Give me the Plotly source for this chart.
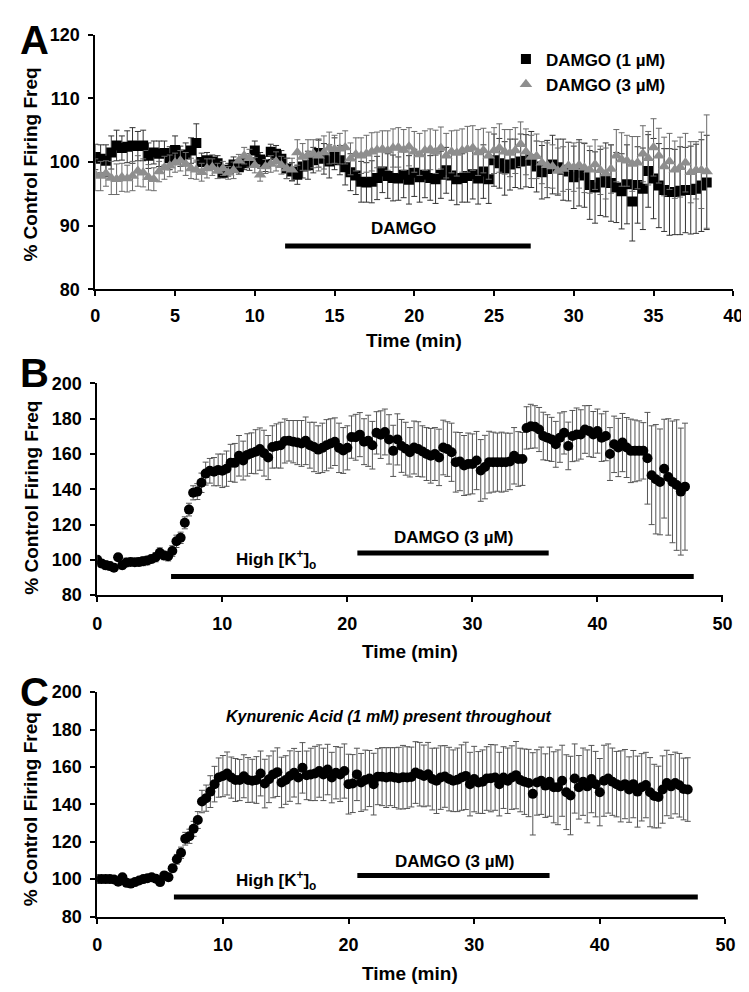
import plotly.graph_objects as go

W, H = 749, 992
SAMPLE_MIN = 1 / 3  # one sample every 20 s

# ---------------- Panel A data ----------------
a_damgo1 = [100.8, 100.5, 100.2, 101.5, 102.6, 102.2, 102.4, 102.6, 102.5, 102.6, 101.0, 101.5,
            101.3, 101.4, 100.6, 101.9, 100.9, 101.2, 101.8, 103.0, 100.0, 100.3, 100.1, 99.8,
            98.3, 98.8, 99.6, 99.2, 99.8, 100.0, 101.8, 100.4, 99.7, 101.6, 101.3, 100.5,
            99.0, 98.5, 98.0, 99.3, 99.5, 100.3, 101.4, 100.5, 100.1, 101.3, 100.3, 99.2,
            98.4, 97.9, 96.9, 96.8, 96.9, 97.5, 98.5, 97.8, 97.5, 97.4, 98.0, 97.2,
            98.3, 97.6, 98.0, 97.5, 97.3, 98.0, 98.7, 97.9, 97.3, 97.5, 97.8, 98.1,
            97.4, 98.5, 97.3, 100.3, 99.8, 99.0, 99.6, 99.8, 100.1, 100.2, 100.4, 99.3,
            98.4, 98.9, 99.6, 99.2, 98.8, 98.5, 97.6, 98.3, 97.9, 96.4, 96.0, 96.8,
            97.2, 96.7, 96.0, 95.4, 96.5, 93.8, 96.4, 95.8, 98.6, 97.4, 96.3, 95.6,
            95.3, 95.3, 95.5, 95.6, 95.6, 95.8, 96.3, 96.8]
a_damgo1_err = [2.0, 2.2, 2.5, 2.6, 2.4, 1.9, 2.5, 2.8, 2.3, 2.4, 2.0, 1.8,
                2.0, 1.9, 1.8, 2.2, 1.6, 1.8, 2.0, 3.0, 1.4, 1.2, 1.0, 1.2,
                0.8, 1.0, 1.2, 1.1, 1.0, 1.3, 1.5, 1.1, 1.2, 1.2, 1.3, 1.3,
                1.6, 1.4, 1.5, 1.8, 2.2, 2.0, 2.2, 2.4, 2.6, 2.5, 2.3, 2.8,
                2.9, 3.0, 3.2, 3.1, 3.3, 3.4, 3.3, 3.5, 3.6, 3.4, 3.6, 3.8,
                3.7, 3.9, 3.6, 3.5, 3.8, 3.7, 3.6, 3.9, 4.0, 3.8, 4.1, 3.9,
                4.0, 4.2, 3.8, 4.1, 3.9, 4.2, 4.0, 3.8, 4.3, 4.1, 4.4, 4.0,
                4.2, 4.5, 4.6, 4.4, 4.8, 4.6, 4.9, 5.2, 5.0, 5.4, 5.6, 5.2,
                5.8, 6.0, 5.5, 5.9, 6.2, 6.2, 6.0, 6.4, 5.7, 6.3, 6.6, 6.5,
                6.8, 6.7, 6.9, 6.7, 6.9, 7.0, 7.2, 7.4]
a_damgo3 = [98.0, 97.8, 98.2, 97.5, 97.3, 97.6, 97.4, 97.8, 98.6, 98.3, 97.6, 97.3,
            98.5, 99.1, 99.4, 99.9, 100.2, 99.7, 99.0, 98.8, 98.4, 99.0, 99.2, 98.6,
            99.0, 98.3, 98.7, 100.2, 101.0, 100.6, 99.5, 98.0, 99.3, 99.7, 100.1, 99.5,
            99.0, 98.8, 101.5, 100.8, 101.1, 101.3, 101.0, 101.5, 102.2, 102.0, 102.1, 102.3,
            100.5, 101.2, 101.0, 101.3, 101.6, 101.9, 102.0, 101.8, 102.2, 102.3, 101.9, 102.4,
            101.6, 101.2, 101.8, 102.0, 101.6, 102.2, 101.0, 101.6, 101.4, 101.8, 102.0, 102.2,
            101.5, 101.8, 101.0, 101.8, 102.2, 101.6, 101.4, 101.8, 102.8, 101.6, 100.8, 100.9,
            99.9, 99.5, 99.3, 98.6, 98.9, 99.4, 99.2, 99.5, 99.1, 98.8, 99.6, 98.7,
            98.2, 98.9, 101.0, 100.4, 100.2, 99.7, 99.9, 101.3, 100.6, 102.3, 101.0, 99.3,
            100.1, 98.8, 99.2, 99.9, 98.4, 98.7, 98.7, 98.5]
a_damgo3_err = [2.5, 2.3, 2.0, 2.6, 2.4, 2.2, 2.1, 2.3, 2.4, 2.2, 2.0, 1.8,
                1.6, 1.8, 1.7, 1.5, 1.6, 1.8, 1.6, 1.5, 1.4, 1.5, 1.3, 1.2,
                1.1, 1.0, 1.3, 1.0, 1.3, 1.4, 1.2, 1.0, 1.1, 1.3, 1.5, 1.4,
                1.6, 1.8, 2.0, 2.1, 2.4, 2.2, 2.4, 2.6, 2.5, 2.2, 2.4, 2.6,
                2.5, 2.6, 2.8, 2.9, 3.0, 2.8, 2.9, 3.1, 3.0, 3.1, 3.2, 3.0,
                3.2, 3.3, 3.1, 3.2, 3.4, 3.3, 3.5, 3.3, 3.6, 3.4, 3.6, 3.5,
                3.6, 3.5, 3.7, 3.6, 3.8, 3.5, 3.7, 3.6, 3.5, 3.6, 3.4, 3.5,
                3.3, 3.5, 3.4, 3.6, 3.5, 3.7, 3.8, 3.6, 3.9, 3.7, 3.9, 3.8,
                4.0, 3.8, 4.1, 4.2, 4.0, 4.3, 4.1, 4.4, 4.2, 4.5, 4.3, 4.6,
                4.4, 4.5, 4.7, 4.6, 4.8, 4.5, 6.0, 8.9]

# ---------------- Panel B data ----------------
b_vals = [100.0, 98.0, 97.0, 96.5, 95.5, 101.5, 97.0, 98.5, 98.8, 98.7, 98.8, 99.2,
          99.6, 100.5, 101.5, 104.0, 102.5, 102.0, 105.0, 110.5, 112.5, 121.0, 128.5, 138.0,
          138.7, 143.7, 148.9, 150.5, 150.0, 151.0, 150.5, 151.7, 155.0, 155.0, 159.0, 156.3,
          159.5, 160.5, 161.3, 162.8, 160.5, 158.0, 164.0, 164.6, 165.0, 167.4, 167.5, 167.0,
          166.5, 166.0, 167.5, 165.0, 164.0, 162.5, 163.5, 165.0, 166.0, 167.0, 163.5, 162.0,
          163.5, 169.6, 169.5, 171.0, 167.0, 167.5, 165.0, 172.0, 171.0, 172.5, 168.3, 161.8,
          168.3, 164.6, 163.0, 161.0, 163.7, 162.8, 161.5, 160.0, 159.0, 160.0, 158.1, 163.7,
          162.8, 161.0, 155.4, 155.7, 153.5, 154.4, 154.4, 156.3, 150.7, 152.6, 155.4, 155.4,
          155.4, 155.4, 155.4, 155.8, 159.0, 157.2, 157.2, 174.8, 175.7, 175.4, 173.9, 170.2,
          169.3, 168.3, 165.5, 169.3, 172.0, 164.6, 170.2, 171.1, 171.1, 173.9, 173.0, 171.1,
          173.0, 169.3, 170.2, 160.0, 165.5, 163.7, 166.5, 163.7, 161.8, 161.8, 161.8, 161.8,
          157.6, 148.0, 145.7, 144.2, 151.7, 147.0, 144.2, 142.4, 138.7, 141.5]
b_err = [2.2, 2.0, 2.5, 2.3, 2.1, 2.0, 2.2, 2.4, 2.0, 2.1, 2.3, 2.5,
         2.4, 2.2, 2.6, 2.8, 2.4, 2.6, 3.0, 3.5, 3.2, 3.4, 3.6, 4.0,
         4.5, 5.5, 6.5, 7.0, 8.0, 9.0, 9.5, 10.0, 10.5, 11.0, 11.5, 11.0,
         12.0, 11.5, 12.5, 12.0, 13.0, 12.5, 12.0, 12.5, 13.0, 12.5, 11.5, 12.0,
         12.5, 13.0, 13.5, 13.0, 14.0, 13.5, 14.0, 14.5, 14.0, 13.5, 14.0, 13.0,
         12.5, 12.0, 13.0, 12.5, 13.0, 14.5, 13.5, 12.0, 13.5, 13.0, 14.0, 14.5,
         14.5, 15.0, 15.0, 14.0, 15.0, 15.5, 14.5, 15.0, 15.5, 15.0, 16.0, 15.5,
         15.5, 16.5, 17.0, 16.5, 17.0, 17.5, 17.0, 16.5, 17.5, 18.0, 17.5, 17.0,
         16.5, 17.0, 16.5, 16.0, 16.0, 15.5, 15.0, 12.0, 12.5, 12.0, 12.5, 13.5,
         13.0, 12.5, 13.0, 14.0, 12.0, 13.5, 14.5, 15.0, 14.0, 13.5, 14.5, 13.0,
         12.5, 13.5, 14.0, 15.0, 16.0, 16.5, 16.5, 17.0, 18.0, 17.5, 17.0, 16.0,
         26.0, 28.0, 31.0, 30.0, 28.0, 33.0, 34.5, 37.0, 36.0, 36.0]

# ---------------- Panel C data ----------------
c_vals = [100.0, 100.0, 100.0, 100.0, 99.8, 98.6, 101.0, 98.0, 97.6, 98.4, 99.3, 100.0,
          100.5, 101.0, 100.2, 98.4, 102.0, 101.0, 105.8, 110.6, 114.1, 121.6, 122.9, 126.9,
          131.6, 141.5, 143.3, 146.8, 150.8, 154.3, 155.1, 156.5, 154.3, 153.0, 153.0, 155.0,
          153.0, 152.6, 153.0, 156.5, 151.1, 153.4, 156.0, 157.2, 151.7, 153.0, 155.1, 156.9,
          154.3, 159.5, 155.5, 156.0, 156.5, 157.8, 156.0, 158.6, 154.3, 156.9, 156.0, 157.8,
          150.8, 151.1, 156.0, 151.7, 153.0, 153.8, 150.8, 154.8, 154.8, 154.3, 154.8, 154.3,
          154.0, 154.5, 154.3, 154.6, 157.0, 156.1, 155.2, 156.1, 153.5, 152.6, 154.3, 154.9,
          153.5, 152.6, 153.1, 154.3, 155.2, 150.8, 153.5, 151.7, 152.1, 153.8, 154.0, 154.3,
          150.8, 154.3, 152.6, 154.3, 155.6, 153.0, 152.1, 151.4, 145.6, 151.7, 152.6, 150.0,
          152.1, 149.1, 149.1, 152.6, 146.5, 144.7, 153.8, 149.1, 152.1, 149.6, 153.5, 150.8,
          146.5, 152.6, 153.8, 152.1, 150.8, 149.6, 150.8, 147.9, 150.8, 146.8, 149.1, 150.3,
          146.5, 144.4, 143.9, 147.9, 151.4, 149.6, 151.4, 150.2, 148.2, 147.9]
c_err = [1.0, 1.0, 1.0, 1.0, 1.2, 1.2, 1.4, 1.5, 1.6, 1.5, 1.4, 1.3,
         1.4, 1.5, 1.6, 1.8, 1.7, 1.9, 2.0, 2.6, 3.0, 3.4, 3.8, 4.0,
         4.5, 6.0, 7.0, 8.5, 9.5, 10.5, 11.0, 11.5, 11.0, 11.5, 11.0, 11.5,
         12.0, 11.5, 12.5, 12.0, 13.0, 12.5, 12.5, 13.0, 13.5, 13.0, 13.5, 13.0,
         14.0, 13.5, 13.0, 14.0, 14.5, 14.0, 14.0, 13.5, 13.5, 14.0, 14.5, 14.5,
         16.0, 15.5, 14.0, 15.5, 16.0, 15.0, 16.5, 15.0, 15.5, 16.0, 15.5, 16.0,
         16.5, 17.0, 16.5, 16.0, 16.5, 17.0, 16.5, 17.0, 16.5, 17.5, 17.0, 16.5,
         17.0, 16.5, 17.0, 17.5, 18.0, 17.0, 17.5, 16.5, 17.0, 17.0, 18.0, 17.5,
         17.0, 16.5, 17.5, 17.0, 18.0, 17.0, 17.5, 18.0, 22.0, 17.5, 18.0, 17.0,
         18.5, 19.0, 20.0, 19.0, 20.0, 21.0, 18.5, 17.0, 18.0, 19.5, 18.0, 17.5,
         18.0, 19.0, 18.5, 18.0, 17.5, 19.0, 18.5, 17.5, 18.0, 19.0, 18.0, 17.5,
         18.5, 17.0, 16.5, 18.0, 17.5, 17.0, 16.5, 17.0, 16.5, 17.0]

# application periods (start min, end min, bar level %)
a_damgo_period = [11.9, 27.3, 86.8]
b_damgo_period = [20.8, 36.1, 103.9]
b_highk_period = [5.9, 47.7, 90.6]
c_damgo_period = [20.7, 36.0, 102.0]
c_highk_period = [6.1, 47.8, 90.5]

a_xticks = [0, 5, 10, 15, 20, 25, 30, 35, 40]
a_yticks = [80, 90, 100, 110, 120]
bc_xticks = [0, 10, 20, 30, 40, 50]
bc_yticks = [80, 100, 120, 140, 160, 180, 200]


def times(vals):
    return [i * SAMPLE_MIN for i in range(len(vals))]


FONT = "Liberation Sans, Arial, Helvetica, sans-serif"
BOLD = dict(family=FONT, weight="bold", color="black")


def px_x(p):
    return p / W


def px_y(p):
    return 1 - p / H


fig = go.Figure()

fig.add_trace(go.Scatter(
    x=times(a_damgo1), y=a_damgo1, mode="markers", name="DAMGO (1 µM)",
    marker=dict(symbol="square", size=10, color="black"),
    error_y=dict(type="data", array=a_damgo1_err[:len(a_damgo1)], color="#333333", thickness=1, width=3),
    xaxis="x", yaxis="y"))
fig.add_trace(go.Scatter(
    x=times(a_damgo3), y=a_damgo3, mode="markers", name="DAMGO (3 µM)",
    marker=dict(symbol="triangle-up", size=11, color="#8e8e8e"),
    error_y=dict(type="data", array=a_damgo3_err[:len(a_damgo3)], color="#6a6a6a", thickness=1, width=3),
    xaxis="x", yaxis="y"))
fig.add_trace(go.Scatter(
    x=times(b_vals), y=b_vals, mode="markers", showlegend=False,
    marker=dict(symbol="circle", size=10, color="black"),
    error_y=dict(type="data", array=b_err[:len(b_vals)], color="#555555", thickness=1, width=3),
    xaxis="x2", yaxis="y2"))
fig.add_trace(go.Scatter(
    x=times(c_vals), y=c_vals, mode="markers", showlegend=False,
    marker=dict(symbol="circle", size=10, color="black"),
    error_y=dict(type="data", array=c_err[:len(c_vals)], color="#555555", thickness=1, width=3),
    xaxis="x3", yaxis="y3"))

axis_common = dict(showgrid=False, zeroline=False, showline=True, linecolor="black", linewidth=2,
                   ticks="outside", ticklen=5, tickwidth=2, tickcolor="black",
                   tickfont=dict(size=18, **BOLD), fixedrange=True)

fig.update_layout(
    width=W, height=H, margin=dict(l=0, r=0, t=0, b=0),
    paper_bgcolor="white", plot_bgcolor="white",
    font=dict(family=FONT),
    xaxis=dict(domain=[px_x(84), px_x(735)], range=[0, 40], tickvals=a_xticks, anchor="y",
               ticklabelstandoff=4, **axis_common),
    yaxis=dict(domain=[px_y(277), px_y(17)], range=[80, 120], tickvals=a_yticks, anchor="x",
               ticklabelstandoff=5, **axis_common),
    xaxis2=dict(domain=[px_x(86), px_x(724)], range=[0, 50], tickvals=bc_xticks, anchor="y2",
                ticklabelstandoff=6, **axis_common),
    yaxis2=dict(domain=[px_y(589), px_y(373)], range=[80, 200], tickvals=bc_yticks, anchor="x2",
                ticklabelstandoff=5, **axis_common),
    xaxis3=dict(domain=[px_x(86), px_x(727)], range=[0, 50], tickvals=bc_xticks, anchor="y3",
                ticklabelstandoff=6, **axis_common),
    yaxis3=dict(domain=[px_y(917), px_y(688)], range=[80, 200], tickvals=bc_yticks, anchor="x3",
                ticklabelstandoff=5, **axis_common),
    legend=dict(x=px_x(503), y=px_y(24), xanchor="left", yanchor="top",
                font=dict(size=17, **BOLD), bgcolor="rgba(0,0,0,0)",
                itemwidth=30, tracegroupgap=0),
)

shapes = []
for xr, yr, per in [("x", "y", a_damgo_period), ("x2", "y2", b_damgo_period), ("x2", "y2", b_highk_period),
                    ("x3", "y3", c_damgo_period), ("x3", "y3", c_highk_period)]:
    shapes.append(dict(type="line", xref=xr, yref=yr, x0=per[0], x1=per[1], y0=per[2], y1=per[2],
                       line=dict(color="black", width=5)))
fig.update_layout(shapes=shapes)

ann = []
# panel letters
for letter, ypx in [("A", 22), ("B", 362), ("C", 688)]:
    ann.append(dict(text=letter, xref="paper", yref="paper", x=px_x(22), y=px_y(ypx),
                    xanchor="center", yanchor="middle",
                    showarrow=False, font=dict(size=40, **BOLD)))
# y titles
for ypx in [150, 490, 808]:
    ann.append(dict(text="% Control Firing Freq", xref="paper", yref="paper", x=px_x(18), y=px_y(ypx),
                    xanchor="center", yanchor="middle",
                    textangle=-90, showarrow=False, font=dict(size=19, **BOLD)))
# x titles
for xpx, ypx in [(409, 329), (405, 647), (405, 975)]:
    ann.append(dict(text="Time (min)", xref="paper", yref="paper", x=px_x(xpx), y=px_y(ypx),
                    xanchor="center", yanchor="middle",
                    showarrow=False, font=dict(size=19, **BOLD)))
# in-plot labels
ann.append(dict(text="DAMGO", xref="x", yref="y", x=19.3, y=89.5, showarrow=False, font=dict(size=17, **BOLD)))
ann.append(dict(text="DAMGO (3 µM)", xref="x2", yref="y2", x=28.5, y=112.8, showarrow=False, font=dict(size=17, **BOLD)))
ann.append(dict(text="High [K<sup>+</sup>]<sub>o</sub>", xref="x2", yref="y2", x=14.3, y=100.0, showarrow=False,
                font=dict(size=17, **BOLD)))
ann.append(dict(text="DAMGO (3 µM)", xref="x3", yref="y3", x=28.4, y=109.3, showarrow=False, font=dict(size=17, **BOLD)))
ann.append(dict(text="High [K<sup>+</sup>]<sub>o</sub>", xref="x3", yref="y3", x=14.2, y=99.4, showarrow=False,
                font=dict(size=17, **BOLD)))
ann.append(dict(text="Kynurenic Acid (1 mM) present throughout", xref="x3", yref="y3", x=23.2, y=186.8,
                showarrow=False, font=dict(size=16, style="italic", **BOLD)))
fig.update_layout(annotations=ann)

fig.write_html("out.html")
